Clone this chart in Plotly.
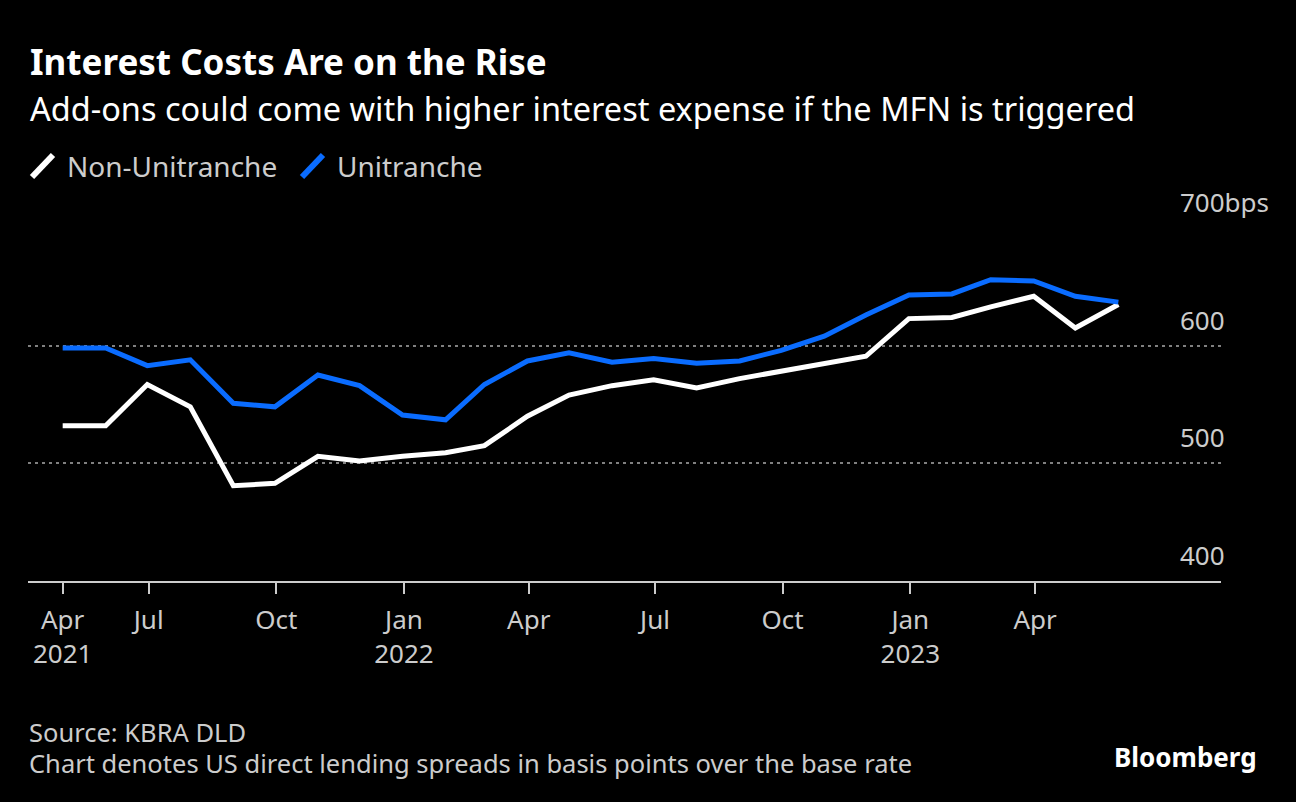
import plotly.graph_objects as go

# ---- data ----
dates = ["2021-04-30", "2021-05-31", "2021-06-30", "2021-07-31", "2021-08-31", "2021-09-30",
         "2021-10-31", "2021-11-30", "2021-12-31", "2022-01-31", "2022-02-28", "2022-03-31",
         "2022-04-30", "2022-05-31", "2022-06-30", "2022-07-31", "2022-08-31", "2022-09-30",
         "2022-10-31", "2022-11-30", "2022-12-31", "2023-01-31", "2023-02-28", "2023-03-31",
         "2023-04-30", "2023-05-31"]
non_unitranche = [532, 532, 567, 548, 481, 483, 506, 502, 506, 509, 515, 540,
                  558, 566, 571, 564, 572, 578, 584, 591, 623, 624, 633, 642, 615, 635]
unitranche = [598, 598, 583, 588, 551, 548, 575, 566, 541, 537, 567, 587,
              594, 586, 589, 585, 587, 596, 608, 626, 643, 644, 656, 655, 642, 637]

tick_vals = ["2021-04-30", "2021-07-01", "2021-10-01", "2022-01-01", "2022-04-01",
             "2022-07-01", "2022-10-01", "2023-01-01", "2023-04-01"]
tick_text = ["Apr<br>2021", "Jul", "Oct", "Jan<br>2022", "Apr", "Jul", "Oct", "Jan<br>2023", "Apr"]
y_ticks = [400, 500, 600, 700]
y_tick_text = ["400", "500", "600", "700bps"]

WHITE = "#ffffff"
BLUE = "#0a6cff"
GREY = "#cccccc"
FONT = "Noto Sans"

# plot area in pixels
L, R, T, B = 28, 1221, 228, 581
W, H = 1296, 802


def px(x):
    return (x - L) / (R - L)


def py(y):
    return (B - y) / (B - T)


fig = go.Figure()
fig.add_trace(go.Scatter(x=dates, y=non_unitranche, mode="lines", name="Non-Unitranche",
                         line=dict(color=WHITE, width=5), showlegend=False))
fig.add_trace(go.Scatter(x=dates, y=unitranche, mode="lines", name="Unitranche",
                         line=dict(color=BLUE, width=5), showlegend=False))

ann = []
ann.append(dict(text="<b>Interest Costs Are on the Rise</b>", x=px(28), y=py(61), xref="paper", yref="paper",
                xanchor="left", yanchor="middle", showarrow=False,
                font=dict(family=FONT, size=35, color=WHITE)))
ann.append(dict(text="Add-ons could come with higher interest expense if the MFN is triggered",
                x=px(28), y=py(108), xref="paper", yref="paper",
                xanchor="left", yanchor="middle", showarrow=False,
                font=dict(family=FONT, size=32.5, color=WHITE)))
# legend
ann.append(dict(text="Non-Unitranche", x=px(65), y=py(166), xref="paper", yref="paper",
                xanchor="left", yanchor="middle", showarrow=False,
                font=dict(family=FONT, size=28, color=GREY)))
ann.append(dict(text="Unitranche", x=px(335), y=py(166), xref="paper", yref="paper",
                xanchor="left", yanchor="middle", showarrow=False,
                font=dict(family=FONT, size=28, color=GREY)))
# y labels
for v, t in zip(y_ticks, y_tick_text):
    ann.append(dict(text=t, x=px(1178), y=v, xref="paper", yref="y", yshift=26,
                    xanchor="left", yanchor="middle", showarrow=False,
                    font=dict(family=FONT, size=26, color=GREY)))
# footer
ann.append(dict(text="Source: KBRA DLD", x=px(27), y=py(732), xref="paper", yref="paper",
                xanchor="left", yanchor="middle", showarrow=False,
                font=dict(family=FONT, size=25.5, color=GREY)))
ann.append(dict(text="Chart denotes US direct lending spreads in basis points over the base rate",
                x=px(27), y=py(763), xref="paper", yref="paper",
                xanchor="left", yanchor="middle", showarrow=False,
                font=dict(family=FONT, size=25.5, color=GREY)))
ann.append(dict(text="<b>Bloomberg</b>", x=px(1259), y=py(757), xref="paper", yref="paper",
                xanchor="right", yanchor="middle", showarrow=False,
                font=dict(family=FONT, size=26, color=WHITE)))

shapes = [
    dict(type="line", xref="paper", yref="paper", x0=px(32), y0=py(177), x1=px(53), y1=py(155),
         line=dict(color=WHITE, width=6)),
    dict(type="line", xref="paper", yref="paper", x0=px(302), y0=py(177), x1=px(323), y1=py(155),
         line=dict(color=BLUE, width=6)),
]

fig.update_layout(
    width=W, height=H,
    margin=dict(l=L, r=W - R, t=T, b=H - B, pad=0),
    paper_bgcolor="#000000", plot_bgcolor="#000000",
    annotations=ann, shapes=shapes,
    xaxis=dict(type="date", range=["2021-04-05", "2023-08-13"], showgrid=False, zeroline=False,
               tickvals=tick_vals, ticktext=tick_text, ticks="outside", ticklen=11, tickwidth=1.5,
               tickcolor=GREY, showline=True, linecolor=GREY, linewidth=2,
               ticklabelstandoff=4,
               tickfont=dict(family=FONT, size=26, color=GREY)),
    yaxis=dict(range=[400, 700], tickvals=[500, 600, 700], showticklabels=False, showgrid=True,
               gridcolor="#808080", gridwidth=1.5, griddash="3px,4px", zeroline=False,
               showline=False),
)

fig.write_html("out.html")
